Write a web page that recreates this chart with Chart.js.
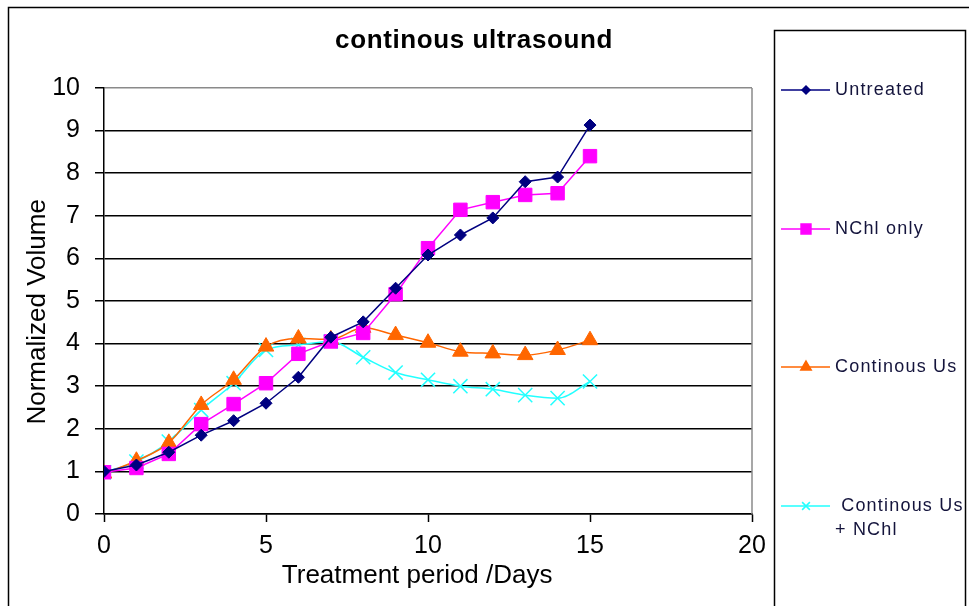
<!DOCTYPE html>
<html>
<head>
<meta charset="utf-8">
<script src="https://cdn.jsdelivr.net/npm/chart.js@4/dist/chart.umd.min.js"></script>
<style>
  html, body { margin: 0; padding: 0; background: #fff; }
  #wrap { width: 969px; height: 606px; position: relative; }
</style>
</head>
<body>
<div id="wrap"><canvas id="chart" width="969" height="606"></canvas></div>
<script>
"use strict";

// Data
const days = [0, 1, 2, 3, 4, 5, 6, 7, 8, 9, 10, 11, 12, 13, 14, 15];
const untreated = [1.0, 1.15, 1.45, 1.85, 2.19, 2.6, 3.21, 4.15, 4.51, 5.3, 6.08, 6.55, 6.95, 7.8, 7.91, 9.13];
const nchlOnly = [0.98, 1.08, 1.41, 2.11, 2.58, 3.07, 3.76, 4.05, 4.25, 5.16, 6.24, 7.14, 7.32, 7.49, 7.53, 8.4];
const continousUs = [0.95, 1.25, 1.67, 2.56, 3.15, 3.93, 4.12, 4.1, 4.37, 4.2, 4.02, 3.81, 3.77, 3.73, 3.85, 4.08];
const continousUsNchl = [0.98, 1.23, 1.7, 2.44, 3.07, 3.85, 3.97, 4.05, 3.68, 3.32, 3.15, 3.0, 2.93, 2.79, 2.72, 3.11];

const chartTitle = "continous ultrasound";
const legendLabels = [["Untreated"], ["NChl only"], ["Continous Us"], [" Continous Us", "+ NChl"]];

const FONT = "'Liberation Sans', Arial, sans-serif";

function toPoints(values) {
  return values.map((v, i) => ({ x: days[i], y: v }));
}

// Frame, title, right edge of plot, legend box
const decorations = {
  id: "decorations",
  beforeDraw(chart) {
    const ctx = chart.ctx;
    ctx.save();
    ctx.fillStyle = "#fff";
    ctx.fillRect(0, 0, chart.width, chart.height);
    ctx.strokeStyle = "#000";
    ctx.lineWidth = 1.5;
    ctx.strokeRect(8.5, 7.5, 1200, 1200);
    ctx.restore();
  },
  afterDatasetsDraw(chart) {
    const ctx = chart.ctx;
    const area = chart.chartArea;
    ctx.save();
    ctx.strokeStyle = "#8a8a8a";
    ctx.lineWidth = 1.5;
    ctx.beginPath();
    ctx.moveTo(area.right, area.top);
    ctx.lineTo(area.right, area.bottom);
    ctx.stroke();

    if ("letterSpacing" in ctx) ctx.letterSpacing = "0.6px";
    ctx.fillStyle = "#000";
    ctx.font = "bold 26px " + FONT;
    ctx.textAlign = "center";
    ctx.textBaseline = "middle";
    ctx.fillText(chartTitle, 474, 41);

    // legend box
    ctx.strokeStyle = "#000";
    ctx.lineWidth = 1.5;
    ctx.strokeRect(774.5, 30.5, 191, 1000);

    const rows = [90, 229, 367, 506];
    const markerSizes = [4, 7, 6, 5.5];
    ctx.font = "18px " + FONT;
    ctx.textAlign = "left";
    ctx.textBaseline = "middle";
    if ("letterSpacing" in ctx) ctx.letterSpacing = "1.2px";
    chart.data.datasets.forEach((ds, i) => {
      const y = rows[i];
      ctx.strokeStyle = ds.borderColor;
      ctx.lineWidth = 1.5;
      ctx.beginPath();
      ctx.moveTo(781, y);
      ctx.lineTo(830, y);
      ctx.stroke();
      ctx.fillStyle = ds.pointBackgroundColor;
      ctx.strokeStyle = ds.pointBorderColor;
      Chart.helpers.drawPoint(ctx, {
        pointStyle: ds.pointStyle,
        radius: markerSizes[i],
        rotation: 0,
        borderWidth: ds.pointBorderWidth
      }, 806, y);
      ctx.fillStyle = "#14143c";
      legendLabels[i].forEach((line, k) => {
        ctx.fillText(line, 835, y + k * 24);
      });
    });
    ctx.restore();
  }
};

const ctx = document.getElementById("chart").getContext("2d");

new Chart(ctx, {
  type: "line",
  data: {
    datasets: [
      {
        label: "Untreated",
        data: toPoints(untreated),
        borderColor: "#000080",
        backgroundColor: "#000080",
        pointBackgroundColor: "#000080",
        pointBorderColor: "#000080",
        pointStyle: "rectRot",
        pointRadius: 6,
        pointBorderWidth: 1,
        borderWidth: 1.5,
        tension: 0
      },
      {
        label: "NChl only",
        data: toPoints(nchlOnly),
        borderColor: "#ff00ff",
        backgroundColor: "#ff00ff",
        pointBackgroundColor: "#ff00ff",
        pointBorderColor: "#ff00ff",
        pointStyle: "rect",
        pointRadius: 9.5,
        pointBorderWidth: 1,
        borderWidth: 1.5,
        tension: 0
      },
      {
        label: "Continous Us",
        data: toPoints(continousUs),
        borderColor: "#ff6600",
        backgroundColor: "#ff6600",
        pointBackgroundColor: "#ff6600",
        pointBorderColor: "#ff6600",
        pointStyle: "triangle",
        pointRadius: 9,
        pointBorderWidth: 1,
        borderWidth: 1.5,
        cubicInterpolationMode: "monotone"
      },
      {
        label: "Continous Us + NChl",
        data: toPoints(continousUsNchl),
        borderColor: "#22ffff",
        backgroundColor: "#22ffff",
        pointBackgroundColor: "#22ffff",
        pointBorderColor: "#22ffff",
        pointStyle: "crossRot",
        pointRadius: 10,
        pointBorderWidth: 1.5,
        borderWidth: 1.5,
        cubicInterpolationMode: "monotone"
      }
    ]
  },
  options: {
    responsive: false,
    animation: false,
    layout: { padding: { left: 8, right: 217, top: 88, bottom: 0 } },
    plugins: {
      legend: { display: false },
      title: { display: false },
      tooltip: { enabled: false }
    },
    scales: {
      x: {
        type: "linear",
        min: 0,
        max: 20,
        afterFit(scale) { scale.height = 92; },
        ticks: {
          stepSize: 5,
          color: "#000",
          padding: 9,
          font: { family: FONT, size: 25 }
        },
        grid: {
          drawOnChartArea: false,
          drawTicks: true,
          tickLength: 8,
          tickColor: "#000",
          tickWidth: 1.5
        },
        border: { color: "#000", width: 1.5 },
        title: {
          display: true,
          // trailing spaces nudge the centred text left, as in the original
          text: "Treatment period /Days   ",
          color: "#000",
          font: { family: FONT, size: 26 },
          padding: { top: 0, bottom: 15 }
        }
      },
      y: {
        min: 0,
        max: 10,
        afterFit(scale) { scale.width = 96; },
        ticks: {
          stepSize: 1,
          color: "#000",
          padding: 15,
          font: { family: FONT, size: 25 }
        },
        grid: {
          color: (c) => (c.tick && c.tick.value === 10 ? "#8a8a8a" : "#000"),
          lineWidth: 1.5,
          drawTicks: true,
          tickLength: 9,
          tickColor: "#000",
          tickWidth: 1.5
        },
        border: { color: "#000", width: 1.5 },
        title: {
          display: true,
          text: "Normalized Volume   ",
          color: "#000",
          font: { family: FONT, size: 26 },
          padding: { top: 14, bottom: 0 }
        }
      }
    }
  },
  plugins: [decorations]
});
</script>
</body>
</html>
